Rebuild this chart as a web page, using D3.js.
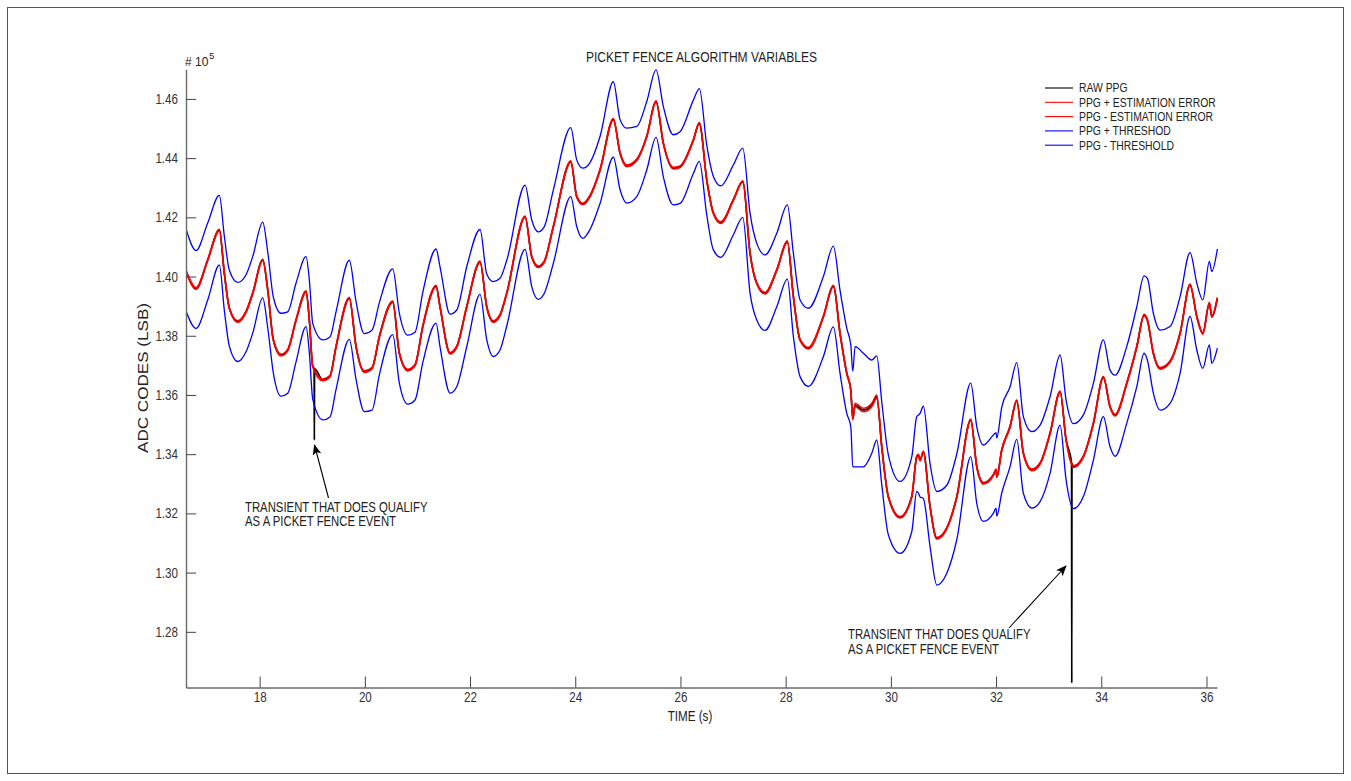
<!DOCTYPE html>
<html><head><meta charset="utf-8">
<script src="https://cdn.jsdelivr.net/npm/d3@7"></script>
<style>
html,body{margin:0;padding:0;background:#fff;}
svg{display:block;}
text{font-family:"Liberation Sans",Arial,sans-serif;}
</style>
</head><body>
<svg id="c" width="1351" height="781"></svg>
<script>
// ---------------- DATA (values in units of 10^5 ADC codes) ----------------
const chartTitle = "PICKET FENCE ALGORITHM VARIABLES";
const xLabel = "TIME (s)";
const yLabel = "ADC CODES (LSB)";
const xLim = [16.6, 36.2];
const yLim = [1.2612, 1.47];
const xTicks = [18, 20, 22, 24, 26, 28, 30, 32, 34, 36];
const yTicks = [1.28, 1.30, 1.32, 1.34, 1.36, 1.38, 1.40, 1.42, 1.44, 1.46];
const seriesNames = ["RAW PPG", "PPG + ESTIMATION ERROR", "PPG - ESTIMATION ERROR", "PPG + THRESHOD", "PPG - THRESHOLD"];

const timeS = [
16.600,16.791,17.013,17.234,17.329,17.424,17.584,17.741,17.869,18.059,
18.154,18.260,18.407,18.534,18.692,18.882,18.945,19.010,19.200,19.338,
19.452,19.705,19.833,19.990,20.137,20.276,20.530,20.656,20.816,20.954,
21.101,21.354,21.429,21.620,21.747,21.937,22.190,22.317,22.443,22.570,
22.698,23.046,23.173,23.298,23.407,23.584,23.915,24.028,24.143,24.281,
24.471,24.724,24.852,24.979,25.169,25.359,25.536,25.675,25.865,25.992,
26.245,26.359,26.500,26.626,26.766,27.006,27.185,27.323,27.451,27.608,
27.831,28.032,28.147,28.274,28.432,28.717,28.907,29.034,29.162,29.238,
29.276,29.320,29.477,29.637,29.732,29.827,29.952,30.175,30.397,30.492,
30.523,30.555,30.618,30.745,30.873,31.063,31.253,31.519,31.633,31.759,
31.949,32.000,32.013,32.108,32.266,32.393,32.519,32.679,32.837,33.027,
33.217,33.331,33.470,33.660,33.850,34.040,34.167,34.262,34.485,34.675,
34.814,34.876,34.990,35.118,35.308,35.498,35.688,35.816,35.930,36.055,
36.101,36.207];

const ppgVals = [
1.4019,1.3960,1.4056,1.4157,1.4011,1.3893,1.3848,1.3881,1.3944,1.4056,
1.3955,1.3786,1.3735,1.3752,1.3853,1.3949,1.3853,1.3696,1.3651,1.3664,
1.3763,1.3927,1.3763,1.3679,1.3691,1.3797,1.3915,1.3741,1.3684,1.3701,
1.3831,1.3968,1.3898,1.3741,1.3763,1.3898,1.4050,1.3898,1.3848,1.3870,
1.3944,1.4202,1.4067,1.4033,1.4049,1.4169,1.4388,1.4270,1.4245,1.4272,
1.4360,1.4531,1.4417,1.4374,1.4394,1.4473,1.4591,1.4450,1.4366,1.4371,
1.4461,1.4518,1.4326,1.4214,1.4182,1.4259,1.4321,1.4079,1.3977,1.3944,
1.4022,1.4118,1.3932,1.3786,1.3758,1.3865,1.3968,1.3808,1.3673,1.3617,
1.3521,1.3566,1.3549,1.3566,1.3594,1.3425,1.3256,1.3187,1.3256,1.3392,
1.3397,1.3380,1.3408,1.3223,1.3116,1.3150,1.3256,1.3516,1.3358,1.3302,
1.3330,1.3347,1.3323,1.3414,1.3493,1.3581,1.3403,1.3347,1.3369,1.3471,
1.3611,1.3448,1.3358,1.3392,1.3504,1.3660,1.3560,1.3532,1.3640,1.3763,
1.3870,1.3853,1.3741,1.3690,1.3713,1.3808,1.3972,1.3865,1.3808,1.3910,
1.3865,1.3927];

// threshold above / below the PPG estimate
const thrUp = [
0.0142,0.0128,0.0125,0.0117,0.0125,0.0128,0.0132,0.0125,0.0124,0.0128,
0.0128,0.0145,0.0141,0.0129,0.0125,0.0118,0.0135,0.0145,0.0135,0.0132,
0.0118,0.0128,0.0152,0.0128,0.0128,0.0115,0.0111,0.0135,0.0118,0.0111,
0.0115,0.0125,0.0135,0.0132,0.0124,0.0135,0.0109,0.0111,0.0135,0.0124,
0.0111,0.0107,0.0124,0.0118,0.0118,0.0124,0.0115,0.0124,0.0121,0.0113,
0.0113,0.0127,0.0113,0.0127,0.0113,0.0118,0.0107,0.0124,0.0113,0.0118,
0.0135,0.0117,0.0118,0.0124,0.0124,0.0118,0.0113,0.0135,0.0135,0.0129,
0.0124,0.0124,0.0146,0.0135,0.0135,0.0135,0.0135,0.0145,0.0152,0.0152,
0.0159,0.0197,0.0192,0.0152,0.0138,0.0152,0.0142,0.0121,0.0135,0.0135,
0.0135,0.0158,0.0154,0.0145,0.0158,0.0145,0.0145,0.0124,0.0135,0.0129,
0.0135,0.0126,0.0132,0.0145,0.0135,0.0128,0.0124,0.0129,0.0129,0.0124,
0.0124,0.0135,0.0145,0.0141,0.0135,0.0126,0.0124,0.0135,0.0124,0.0135,
0.0132,0.0141,0.0135,0.0129,0.0118,0.0124,0.0109,0.0113,0.0113,0.0141,
0.0152,0.0166];

const thrDn = [
0.0135,0.0135,0.0135,0.0118,0.0125,0.0128,0.0135,0.0135,0.0135,0.0128,
0.0128,0.0111,0.0139,0.0146,0.0141,0.0118,0.0111,0.0111,0.0135,0.0138,
0.0145,0.0139,0.0111,0.0135,0.0142,0.0129,0.0111,0.0101,0.0115,0.0118,
0.0122,0.0125,0.0135,0.0135,0.0135,0.0135,0.0110,0.0111,0.0118,0.0118,
0.0111,0.0110,0.0101,0.0110,0.0107,0.0124,0.0118,0.0101,0.0116,0.0113,
0.0113,0.0128,0.0124,0.0126,0.0124,0.0113,0.0121,0.0113,0.0124,0.0124,
0.0113,0.0129,0.0118,0.0124,0.0117,0.0118,0.0121,0.0135,0.0124,0.0126,
0.0124,0.0127,0.0135,0.0124,0.0129,0.0135,0.0138,0.0135,0.0135,0.0124,
0.0162,0.0209,0.0192,0.0163,0.0146,0.0128,0.0128,0.0122,0.0118,0.0118,
0.0128,0.0124,0.0158,0.0135,0.0158,0.0152,0.0145,0.0124,0.0124,0.0129,
0.0129,0.0129,0.0132,0.0145,0.0135,0.0131,0.0135,0.0129,0.0129,0.0135,
0.0113,0.0135,0.0142,0.0135,0.0124,0.0133,0.0135,0.0139,0.0135,0.0135,
0.0129,0.0135,0.0135,0.0141,0.0141,0.0135,0.0107,0.0113,0.0118,0.0141,
0.0158,0.0169];

// estimation error (half-width of the red band): [from s, to s, error]
const estErrSegments = [[16.6, 29.27, 0.0003], [29.27, 29.75, 0.0006], [29.75, 36.3, 0.0003]];

// transients in the raw PPG (the two picket-fence events)
const rawSpikeT = [19.036, 19.040, 19.044, 33.435, 33.439, 33.443];
const rawSpikeV = [1.3690, 1.3448, 1.3688, 1.3372, 1.2627, 1.3368];

const annotations = [
  {lines: ["TRANSIENT THAT DOES QUALIFY", "AS A PICKET FENCE EVENT"]},
  {lines: ["TRANSIENT THAT DOES QUALIFY", "AS A PICKET FENCE EVENT"]}
];

// ---------------- DRAW ----------------
const W = 1351, H = 781;
const svg = d3.select('#c');
svg.append('rect').attr('width', W).attr('height', H).attr('fill', '#fff');
svg.append('rect').attr('x', 7.5).attr('y', 7.5).attr('width', 1336).attr('height', 766)
  .attr('fill', 'none').attr('stroke', '#555').attr('stroke-width', 1);

const plot = {l: 186, r: 1217, t: 69.3, b: 687.5};
const x = d3.scaleLinear().domain(xLim).range([plot.l, plot.r]);
const y = d3.scaleLinear().domain(yLim).range([plot.b, plot.t]);

const errAt = t => { for (const s of estErrSegments) if (t >= s[0] && t < s[1]) return s[2]; return estErrSegments[estErrSegments.length-1][2]; };

const base = timeS.map((t, i) => ({t, v: ppgVals[i], up: thrUp[i], dn: thrDn[i]}));
const raw = base.map(d => ({t: d.t, v: d.v}))
  .concat(rawSpikeT.map((t, i) => ({t, v: rawSpikeV[i]})))
  .sort((a, b) => a.t - b.t);

const line = d3.line().x(d => x(d.t)).y(d => y(d.v)).curve(d3.curveMonotoneX);

svg.append('clipPath').attr('id', 'clip').append('rect')
  .attr('x', plot.l).attr('y', plot.t - 5).attr('width', plot.r - plot.l + 1).attr('height', plot.b - plot.t + 5);
const g = svg.append('g').attr('clip-path', 'url(#clip)');

g.append('path').datum(raw).attr('d', line).attr('fill', 'none').attr('stroke', '#000').attr('stroke-width', 1.7);
g.append('path').datum(base.map(d => ({t: d.t, v: d.v + errAt(d.t)}))).attr('d', line)
  .attr('fill', 'none').attr('stroke', '#ff0000').attr('stroke-width', 1.4);
g.append('path').datum(base.map(d => ({t: d.t, v: d.v - errAt(d.t)}))).attr('d', line)
  .attr('fill', 'none').attr('stroke', '#ff0000').attr('stroke-width', 1.4);
g.append('path').datum(base.map(d => ({t: d.t, v: d.v + d.up}))).attr('d', line)
  .attr('fill', 'none').attr('stroke', '#0000ff').attr('stroke-width', 1.3);
g.append('path').datum(base.map(d => ({t: d.t, v: d.v - d.dn}))).attr('d', line)
  .attr('fill', 'none').attr('stroke', '#0000ff').attr('stroke-width', 1.3);

// condense helper (narrow face look)
function condense(sel, f) {
  sel.each(function () {
    const w = this.getComputedTextLength();
    if (w > 0) { this.setAttribute('textLength', (w * f).toFixed(1)); this.setAttribute('lengthAdjust', 'spacingAndGlyphs'); }
  });
  return sel;
}

// axes
const fmt = d3.format('.2f');
const yAxis = svg.append('g').attr('transform', `translate(${plot.l},0)`)
  .call(d3.axisLeft(y).tickValues(yTicks).tickFormat(fmt).tickSizeInner(-10).tickSizeOuter(0).tickPadding(8));
const xAxis = svg.append('g').attr('transform', `translate(0,${plot.b})`)
  .call(d3.axisBottom(x).tickValues(xTicks).tickFormat(d3.format('d')).tickSizeInner(-11).tickSizeOuter(0).tickPadding(5));
[yAxis, xAxis].forEach(a => {
  a.select('.domain').attr('stroke', '#6a6a6a').attr('stroke-width', 1.4);
  a.selectAll('.tick line').attr('stroke', '#444').attr('stroke-width', 1);
  a.selectAll('.tick text').attr('fill', '#333').style('font-size', '14px').style('font-family', '"Liberation Sans",Arial,sans-serif');
  condense(a.selectAll('.tick text'), 0.83);
});

// titles
const txt = (s, xx, yy, size, anchor) => svg.append('text').attr('x', xx).attr('y', yy)
  .attr('text-anchor', anchor || 'start').style('font-size', size + 'px').attr('fill', '#222').text(s);
condense(txt(chartTitle, 701.5, 62, 14, 'middle'), 0.86);
condense(txt(xLabel, 690, 721, 14, 'middle'), 0.83);
svg.append('text').attr('transform', 'translate(148,378) rotate(-90)').attr('text-anchor', 'middle')
  .style('font-size', '14px').attr('fill', '#222').attr('textLength', 150).attr('lengthAdjust', 'spacingAndGlyphs').text(yLabel);
// exponent label as one text element with a superscript tspan
const ex = svg.append('text').attr('x', 185).attr('y', 66).style('font-size', '12px').attr('fill', '#222');
ex.append('tspan').text('# 10');
ex.append('tspan').attr('dx', 1).attr('dy', -7).style('font-size', '9px').text('5');

// legend
const legItems = [
  {name: seriesNames[0], color: '#000'},
  {name: seriesNames[1], color: '#ff0000'},
  {name: seriesNames[2], color: '#ff0000'},
  {name: seriesNames[3], color: '#0000ff'},
  {name: seriesNames[4], color: '#0000ff'}
];
const leg = svg.append('g');
legItems.forEach((it, i) => {
  const yy = 88 + i * 14.3;
  leg.append('line').attr('x1', 1045).attr('x2', 1073).attr('y1', yy).attr('y2', yy)
    .attr('stroke', it.color).attr('stroke-width', 1.1);
  leg.append('text').attr('x', 1079).attr('y', yy + 4.3).style('font-size', '12.5px').attr('fill', '#222').text(it.name);
});
condense(leg.selectAll('text'), 0.83);

// annotations
const defs = svg.append('defs');
defs.append('marker').attr('id', 'ah').attr('viewBox', '0 0 12 10').attr('refX', 11).attr('refY', 5)
  .attr('markerWidth', 11).attr('markerHeight', 9).attr('markerUnits', 'userSpaceOnUse').attr('orient', 'auto')
  .append('path').attr('d', 'M0,0 L12,5 L0,10 L3,5 Z').attr('fill', '#000');
svg.append('line').attr('x1', 328.5).attr('y1', 498).attr('x2', 314.5).attr('y2', 445)
  .attr('stroke', '#000').attr('stroke-width', 1.1).attr('marker-end', 'url(#ah)');
svg.append('line').attr('x1', 1009).attr('y1', 628).attr('x2', 1066).attr('y2', 566)
  .attr('stroke', '#000').attr('stroke-width', 1.1).attr('marker-end', 'url(#ah)');
const annPos = [[245, 511.5], [848, 639]];
annotations.forEach((a, i) => {
  a.lines.forEach((s, j) => condense(txt(s, annPos[i][0], annPos[i][1] + j * 14.5, 14, 'start'), 0.81));
});
</script>
</body></html>
